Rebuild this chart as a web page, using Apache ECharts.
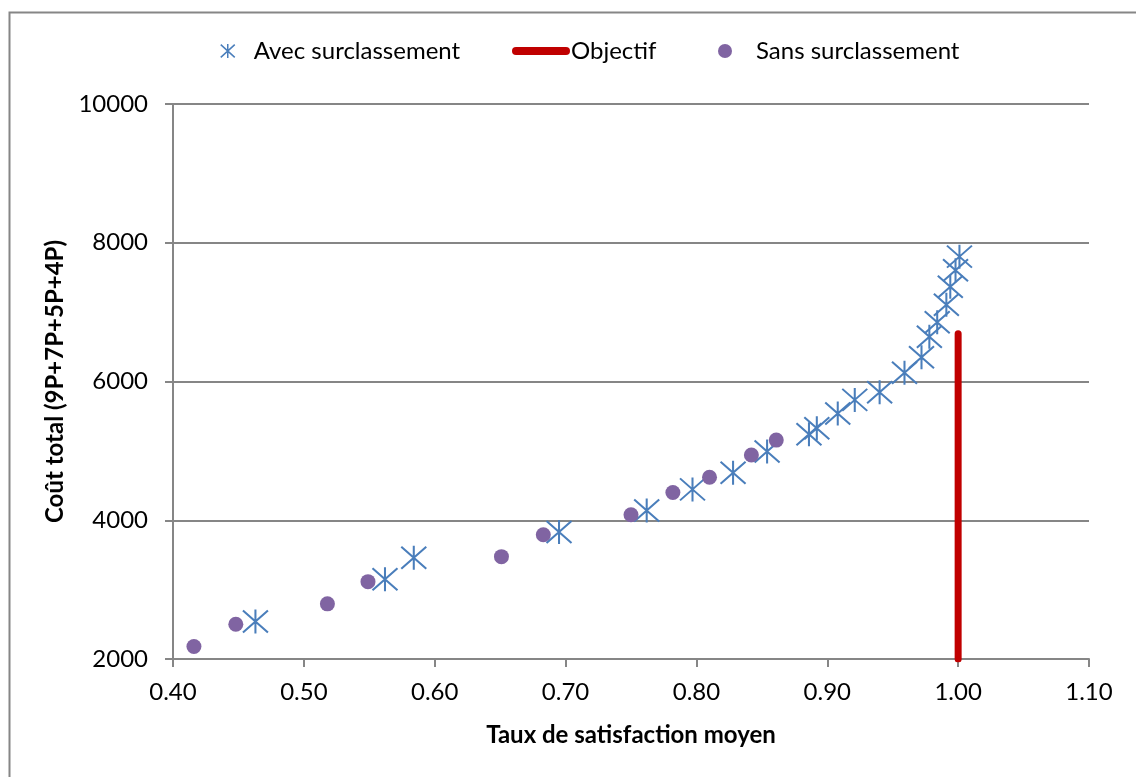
<!DOCTYPE html>
<html>
<head>
<meta charset="utf-8">
<script src="https://cdn.jsdelivr.net/npm/echarts@6/dist/echarts.min.js"></script>
<style>
html,body{margin:0;padding:0;background:#fff;}
#chart{width:1136px;height:777px;}
</style>
</head>
<body>
<div id="chart"></div>
<script>
// Data
const avecX = [0.463, 0.562, 0.584, 0.695, 0.762, 0.797, 0.828, 0.854, 0.886, 0.892, 0.908, 0.921, 0.940, 0.959, 0.972, 0.978, 0.984, 0.991, 0.994, 0.998, 1.001];
const avecY = [2540, 3150, 3460, 3830, 4140, 4445, 4685, 4990, 5240, 5325, 5540, 5735, 5845, 6125, 6350, 6645, 6855, 7105, 7365, 7605, 7800];
const sansX = [0.416, 0.448, 0.518, 0.549, 0.651, 0.683, 0.750, 0.782, 0.810, 0.842, 0.861];
const sansY = [2180, 2500, 2795, 3115, 3475, 3790, 4080, 4400, 4620, 4940, 5155];
const objX = [1.0, 1.0];
const objY = [2000, 6690];
const seriesNames = ['Avec surclassement', 'Objectif', 'Sans surclassement'];
const xAxisTitle = 'Taux de satisfaction moyen';
const yAxisTitle = 'Coût total (9P+7P+5P+4P)';

const zip = (a, b) => a.map((v, i) => [v, b[i]]);
const FONT = 'Lato';
const FS = 24;
const starPath = 'path://M12,0L12,24M0,1L24,23M0,23L24,1';
const capsule = 'path://M4,0L54,0A4,4 0 0 1 54,8L4,8A4,4 0 0 1 4,0Z';
const blue = '#4A7EBB', purple = '#8064A2', red = '#C00000', gray = '#868686';

const chart = echarts.init(document.getElementById('chart'), null, {renderer: 'canvas'});
chart.setOption({
  backgroundColor: '#fff',
  animation: false,
  textStyle: {fontFamily: FONT},
  graphic: [{
    type: 'rect', left: 7, top: 10, silent: true,
    shape: {width: 1200, height: 800},
    style: {fill: 'none', stroke: gray, lineWidth: 2}
  }],
  legend: [
    {left: 215, top: 34, itemWidth: 14, itemHeight: 20, data: [{name: seriesNames[0], icon: starPath,
      itemStyle: {color: 'transparent', borderColor: blue, borderWidth: 1.5}}],
     textStyle: {fontSize: FS, color: '#000', fontFamily: FONT, padding: [0, 0, 0, 14]}},
    {left: 507, top: 34, itemWidth: 58, itemHeight: 8, data: [{name: seriesNames[1], icon: capsule,
      itemStyle: {color: red}}],
     textStyle: {fontSize: FS, color: '#000', fontFamily: FONT, padding: [0, 0, 0, -4]}},
    {left: 713, top: 34, itemWidth: 14, itemHeight: 14, data: [{name: seriesNames[2], icon: 'circle',
      itemStyle: {color: purple}}],
     textStyle: {fontSize: FS, color: '#000', fontFamily: FONT, padding: [0, 0, 0, 19]}}
  ],
  grid: {left: 173, top: 104, right: 47, bottom: 118, containLabel: false},
  xAxis: {
    type: 'value', min: 0.4, max: 1.1, interval: 0.1,
    name: xAxisTitle, nameLocation: 'middle', nameGap: 64,
    nameTextStyle: {fontSize: FS, fontWeight: 'bold', color: '#000', fontFamily: FONT},
    axisLine: {show: true, onZero: false, lineStyle: {color: gray, width: 2}},
    axisTick: {show: true, inside: false, length: 8, lineStyle: {color: gray, width: 2}},
    axisLabel: {fontSize: FS, color: '#000', margin: 21, fontFamily: FONT,
      formatter: v => v.toFixed(2)},
    splitLine: {show: false}
  },
  yAxis: {
    type: 'value', min: 2000, max: 10000, interval: 2000,
    name: yAxisTitle, nameLocation: 'middle', nameGap: 102, nameRotate: 90,
    nameTextStyle: {fontSize: FS, fontWeight: 'bold', color: '#000', fontFamily: FONT},
    axisLine: {show: true, lineStyle: {color: gray, width: 2}},
    axisTick: {show: true, inside: false, length: 8, lineStyle: {color: gray, width: 2}},
    axisLabel: {fontSize: FS, color: '#000', margin: 25, fontFamily: FONT,
      formatter: v => String(v)},
    splitLine: {show: true, lineStyle: {color: gray, width: 2}}
  },
  series: [
    {
      name: seriesNames[0], type: 'scatter', data: zip(avecX, avecY),
      symbol: starPath, symbolSize: [25, 24],
      itemStyle: {color: 'transparent', borderColor: blue, borderWidth: 2, opacity: 1},
      z: 2
    },
    {
      name: seriesNames[1], type: 'line', data: zip(objX, objY),
      symbol: 'none', clip: true,
      lineStyle: {color: red, width: 7, cap: 'round'},
      itemStyle: {color: red},
      z: 3
    },
    {
      name: seriesNames[2], type: 'scatter', data: zip(sansX, sansY),
      symbol: 'circle', symbolSize: 15,
      itemStyle: {color: purple, opacity: 1},
      z: 4
    }
  ]
});
</script>
</body>
</html>
